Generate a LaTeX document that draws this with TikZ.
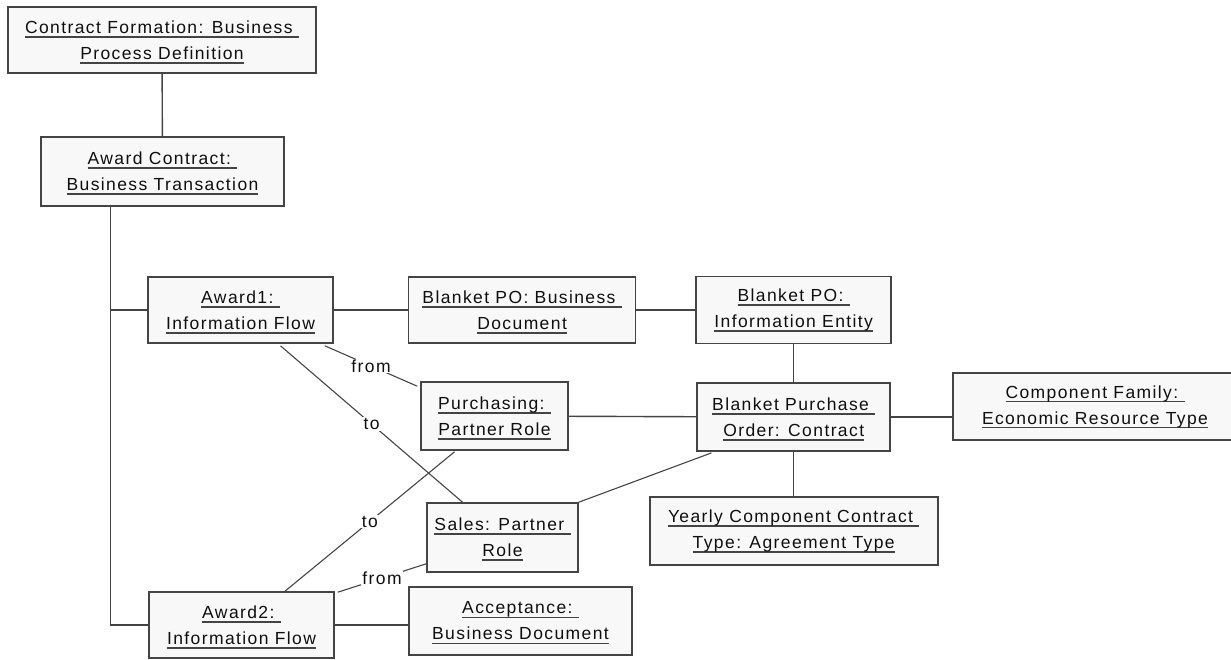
\documentclass[tikz,border=0pt]{standalone}
\usepackage{fontspec}
\setmainfont{Liberation Sans}[LetterSpace=8]
\usepackage{tikz}
\usetikzlibrary{positioning, calc}
\definecolor{boxfill}{RGB}{248,248,248}
\definecolor{edgegray}{RGB}{68,68,68}
\definecolor{inktext}{RGB}{15,15,15}
\newcommand{\ulbox}[1]{\setbox0\hbox{#1}\rlap{\smash{\color{edgegray}\rule[-4.3pt]{\wd0}{1.7pt}}}\box0}

\begin{document}
\begin{tikzpicture}[x=1pt, y=-1pt,
  obj/.style={
    rectangle, draw=edgegray, line width=1.6pt, fill=boxfill,
    align=center, inner sep=0pt, text=inktext,
    font=\fontsize{17.5}{26}\selectfont
  },
  link/.style={edgegray, line width=1.4pt},
  rolelink/.style={edgegray, line width=1.1pt},
  rolelabel/.style={fill=white, inner sep=1pt, text=inktext, font=\fontsize{17.5}{20}\selectfont}
]
\clip (0,0) rectangle (1231,660);

\node[obj, minimum width=308, minimum height=66] (formation) at (162,40)
  {\ulbox{Contract Formation: Business\ }\\ \ulbox{Process Definition}};
\node[obj, minimum width=243, minimum height=69] (awardc) at (162.5,171.5)
  {\ulbox{Award Contract:\ }\\ \ulbox{Business Transaction}};

\node[obj, minimum width=185, minimum height=66] (award1) at (240.5,310)
  {\ulbox{Award1:\ }\\ \ulbox{Information Flow}};
\node[obj, minimum width=227, minimum height=66, right=74pt of award1] (podoc)
  {\ulbox{Blanket PO: Business\ }\\ \ulbox{Document}};
\node[obj, minimum width=195, minimum height=67, right=59pt of podoc] (poent)
  {\ulbox{Blanket PO:\ }\\ \ulbox{Information Entity}};

\node[obj, minimum width=147, minimum height=68] (purch) at (494.5,416)
  {\ulbox{Purchasing:\ }\\ \ulbox{Partner Role}};
\node[obj, minimum width=193, minimum height=68, below=38pt of poent] (bpo)
  {\ulbox{Blanket Purchase\ }\\ \ulbox{Order: Contract}};
\node[obj, minimum width=284, minimum height=67] (compfam) at (1095,406.5)
  {\ulbox{Component Family:\ }\\ \ulbox{Economic Resource Type}};
\node[obj, minimum width=288, minimum height=68, below=44pt of bpo] (yearly)
  {\ulbox{Yearly Component Contract\ }\\ \ulbox{Type: Agreement Type}};

\node[obj, minimum width=151, minimum height=69] (sales) at (502.5,537.5)
  {\ulbox{Sales: Partner\ }\\ \ulbox{Role}};
\node[obj, minimum width=185, minimum height=66] (award2) at (241.5,625)
  {\ulbox{Award2:\ }\\ \ulbox{Information Flow}};
\node[obj, minimum width=223, minimum height=68] (accept) at (520.5,621)
  {\ulbox{Acceptance:\ }\\ \ulbox{Business Document}};

\draw[link] (formation) -- (awardc);
\draw[link] ($(awardc.south west)+(70,0)$) |- (award1.west);
\draw[link] ($(awardc.south west)+(70,0)$) |- (award2.west);
\draw[link] (award1) -- (podoc);
\draw[link] (podoc) -- (poent);
\draw[link] (poent) -- (bpo);
\draw[link] (purch) -- (bpo);
\draw[link] (bpo.east) -- (bpo.east -| compfam.west);
\draw[link] (bpo) -- (yearly);
\draw[link] (award2.east) -- (award2.east -| accept.west);

\draw[rolelink] ($(award1.south east)+(-9,2)$) -- node[rolelabel] {from} ($(purch.north west)+(-3,5)$);
\draw[rolelink] ($(award1.south)+(40,2)$) -- node[rolelabel] {to} ($(sales.north)+(-40,0)$);
\draw[rolelink] ($(award2.north)+(43.5,0)$) -- node[rolelabel] {to} ($(purch.south)+(-40,1)$);
\draw[rolelink] ($(award2.north east)+(3,1)$) -- node[rolelabel] {from} ($(sales.south west)+(0,-9)$);
\draw[rolelink] (sales.north east) -- ($(bpo.south west)+(15,1)$);

\end{tikzpicture}
\end{document}
